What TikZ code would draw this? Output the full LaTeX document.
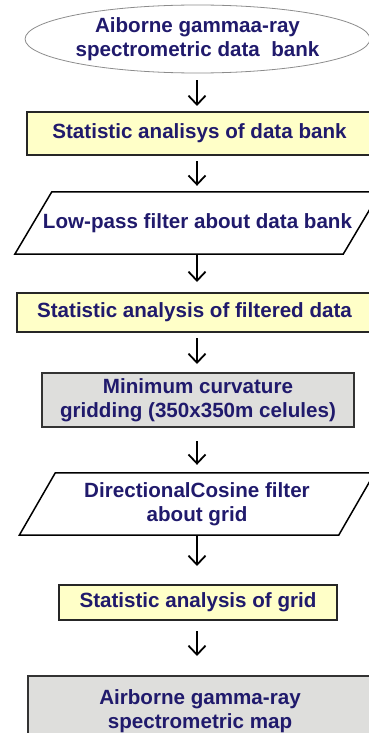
\documentclass[tikz,border=0pt]{standalone}
\usepackage{fontspec}
\setmainfont{Liberation Sans}
\usetikzlibrary{shapes.geometric,arrows.meta}
\definecolor{navytext}{RGB}{32,26,108}
\definecolor{paleyellow}{RGB}{255,255,200}
\definecolor{boxgrey}{RGB}{222,222,220}
\begin{document}
\begin{tikzpicture}[x=1pt,y=-1pt,
		every node/.style={font=\fontsize{20.6}{24}\selectfont\bfseries,text=navytext,align=center,inner sep=0pt},
		startnode/.style={ellipse,draw=black!45,line width=0.8pt,minimum width=309,minimum height=68},
		yellowbox/.style={rectangle,draw=black!85,line width=2pt,fill=paleyellow,minimum height=#1},
		greybox/.style={rectangle,draw=black!80,line width=2pt,fill=boxgrey,minimum height=#1},
		filterbox/.style={rectangle,minimum height=62},
		filteredge/.style={draw=black,line width=1.5pt,line join=miter},
		flowarrow/.style={line width=1.2pt,-{Straight Barb[length=9pt,width=17pt,line width=1.8pt]}}]
				\useasboundingbox (0,0) rectangle (369,733);
				\clip (0,0) rectangle (369,733);
				\node[startnode] (bank) at (197.5,39) {Aiborne gammaa-ray\\spectrometric data~ bank};
				\node[yellowbox=43,minimum width=345] (statbank) at (199.5,133.5) {Statistic analisys of data bank};
				\node[filterbox,minimum width=328] (lowpass) at (197.5,223) {Low-pass filter about data bank};
				\node[yellowbox=39,minimum width=355] (statfilt) at (194.5,312.5) {Statistic analysis of filtered data};
				\node[greybox=54,minimum width=312] (gridding) at (198,400) {Minimum curvature\\gridding (350x350m celules)};
				\node[filterbox,minimum width=319] (cosine) at (197,504) {DirectionalCosine filter\\about grid};
				\node[yellowbox=35,minimum width=278] (statgrid) at (198,602.5) {Statistic analysis of grid};
				\node[greybox=70,minimum width=344] (map) at (200,711) {Airborne gamma-ray\\spectrometric map};
				% slanted outlines of the two filter steps
				\foreach \f/\d in {lowpass/18.5,cosine/18}{
					\draw[filteredge] ([xshift=-\d pt]\f.south west) -- ([xshift=\d pt]\f.north west)
						-- ([xshift=\d pt]\f.north east) -- ([xshift=-\d pt]\f.south east) -- cycle;
				}
				\foreach \a/\b/\s/\e in {bank/statbank/7/5,statbank/lowpass/5/6,lowpass/statfilt/0/10,statfilt/gridding/5/8,
					gridding/cosine/13/8,cosine/statgrid/0/18,statgrid/map/10/19}{
					\draw[flowarrow,shorten <=\s pt,shorten >=\e pt] (197,0 |- \a.south) -- (197,0 |- \b.north);
				}
			\end{tikzpicture}
\end{document}
